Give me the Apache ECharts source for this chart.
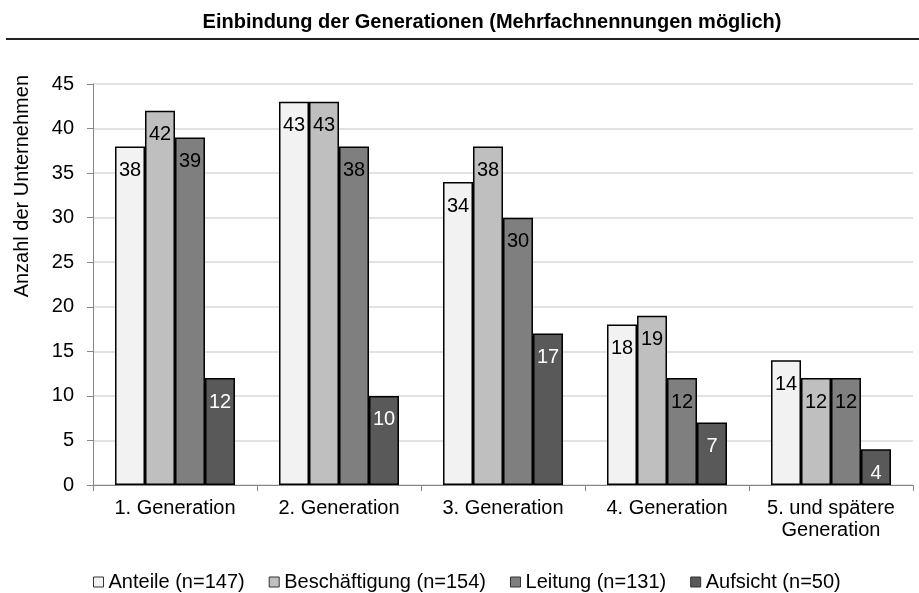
<!DOCTYPE html>
<html>
<head>
<meta charset="utf-8">
<script src="https://cdn.jsdelivr.net/npm/echarts@6/dist/echarts.min.js"></script>
<style>
  html, body { margin: 0; padding: 0; background: #fff; }
  #chart { width: 919px; height: 593px; }
</style>
</head>
<body>
<div id="chart"></div>
<script>
// Kategorien (x-Achse)
var categories = ['1. Generation', '2. Generation', '3. Generation', '4. Generation', '5. und spätere\nGeneration'];

// Werte je Serie
var anteile = [38, 43, 34, 18, 14];
var beschaeftigung = [42, 43, 38, 19, 12];
var leitung = [39, 38, 30, 12, 12];
var aufsicht = [12, 10, 17, 7, 4];

var seriesNames = ['Anteile (n=147)', 'Beschäftigung (n=154)', 'Leitung (n=131)', 'Aufsicht (n=50)'];
var seriesColors = ['#f2f2f2', '#bfbfbf', '#7f7f7f', '#595959'];
var labelColors = ['#000', '#000', '#000', '#fff'];

var font = 'Arial, "Liberation Sans", sans-serif';

function makeSeries(idx, data) {
    return {
        name: seriesNames[idx],
        type: 'bar',
        data: data,
        barWidth: 30,
        barGap: '0%',
        itemStyle: {
            color: seriesColors[idx],
            borderColor: '#000',
            borderWidth: 1.5
        },
        label: {
            show: true,
            position: 'insideTop',
            distance: 14,
            color: labelColors[idx],
            fontFamily: font,
            fontSize: 20
        }
    };
}

var myChart = echarts.init(document.getElementById('chart'));
myChart.setOption({
    animation: false,
    graphic: [{
        // Titel, über der Zeichenfläche zentriert
        type: 'text',
        x: 492,
        y: 22,
        style: {
            text: 'Einbindung der Generationen (Mehrfachnennungen möglich)',
            fontFamily: font,
            fontSize: 20,
            fontWeight: 'bold',
            fill: '#000',
            align: 'center',
            verticalAlign: 'middle'
        }
    }, {
        type: 'line',
        shape: { x1: 6, y1: 39, x2: 919, y2: 39 },
        style: { stroke: '#222', lineWidth: 2 }
    }, {
        type: 'text',
        x: 22,
        y: 75,
        rotation: Math.PI / 2,
        style: {
            text: 'Anzahl der Unternehmen',
            fontFamily: font,
            fontSize: 20,
            fill: '#000',
            align: 'right',
            verticalAlign: 'middle'
        }
    }],
    legend: {
        top: 567,
        left: 88,
        icon: 'rect',
        itemWidth: 10,
        itemHeight: 10,
        itemGap: 24,
        itemStyle: { borderWidth: 1, borderColor: '#333' },
        textStyle: {
            fontFamily: font,
            fontSize: 20,
            color: '#000'
        },
        data: seriesNames
    },
    grid: {
        left: 93,
        right: 6,
        top: 84,
        bottom: 108
    },
    xAxis: {
        type: 'category',
        data: categories,
        axisLine: { lineStyle: { color: '#868686', width: 1 } },
        axisTick: { show: true, length: 6, lineStyle: { color: '#868686' } },
        axisLabel: {
            interval: 0,
            hideOverlap: false,
            fontFamily: font,
            fontSize: 20,
            color: '#000',
            margin: 12,
            lineHeight: 22
        }
    },
    yAxis: {
        type: 'value',
        min: 0,
        max: 45,
        interval: 5,
        axisLine: { show: true, lineStyle: { color: '#868686', width: 1 } },
        axisTick: { show: true, length: 6, lineStyle: { color: '#868686' } },
        axisLabel: {
            fontFamily: font,
            fontSize: 20,
            color: '#000',
            margin: 19
        },
        splitLine: { lineStyle: { color: '#d9d9d9', width: 1.5 } }
    },
    series: [
        makeSeries(0, anteile),
        makeSeries(1, beschaeftigung),
        makeSeries(2, leitung),
        makeSeries(3, aufsicht)
    ]
});
</script>
</body>
</html>
